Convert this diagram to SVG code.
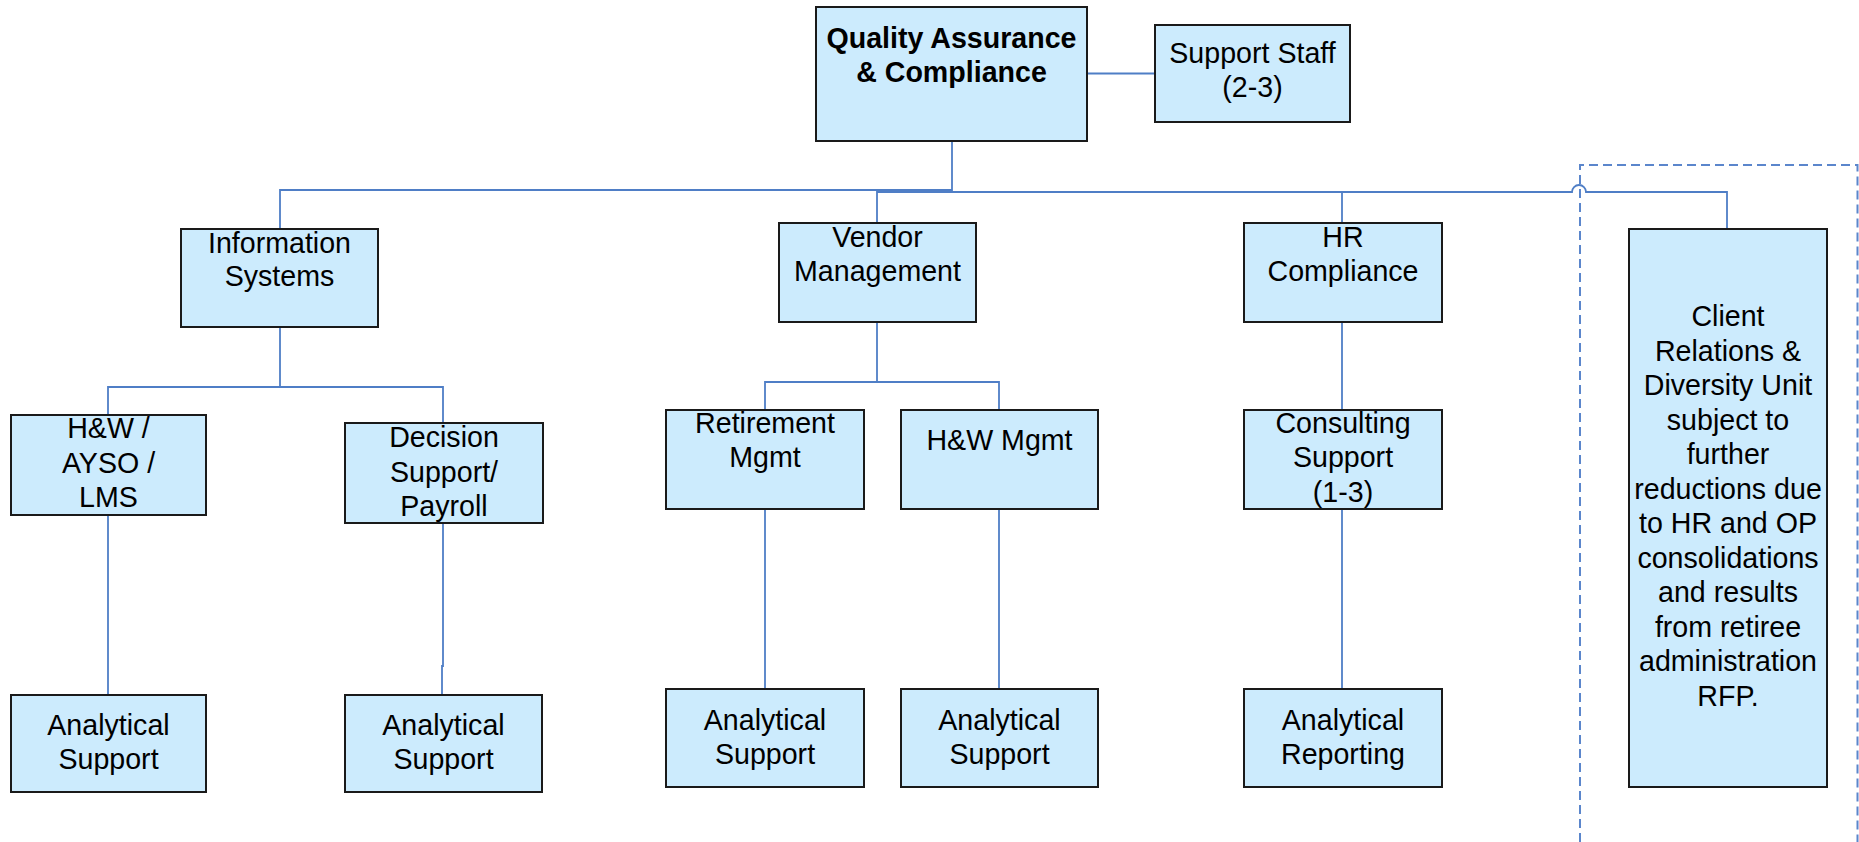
<svg xmlns="http://www.w3.org/2000/svg" width="1859" height="842" viewBox="0 0 1859 842">
<defs>
<style>
.box{fill:#CCEBFD;stroke:#1a1a1a;stroke-width:2}
.t{font-family:"Liberation Sans",Arial,sans-serif;font-size:28.6px;fill:#000;text-anchor:middle}
.b{font-weight:bold}
.c{fill:none;stroke:#4F7EC6;stroke-width:1.8}
.d{fill:none;stroke:#5B86CC;stroke-width:2;stroke-dasharray:9 5}
</style>
</defs>
<rect width="1859" height="842" fill="#fff"/>
<g id="connectors">
<path class="c" d="M1087 73.5H1155"/>
<path class="c" d="M952 141V191"/>
<path class="c" d="M280 229V190H952"/>
<path class="c" d="M877 223V192H1572a7 7 0 0 1 14 0H1727V229"/>
<path class="c" d="M1342 192V223"/>
<path class="c" d="M280 327V387"/>
<path class="c" d="M108 415V387H443V423"/>
<path class="c" d="M108 515V695"/>
<path class="c" d="M443 523V666H442V695"/>
<path class="c" d="M877 322V382"/>
<path class="c" d="M765 410V382H999V410"/>
<path class="c" d="M765 509V689"/>
<path class="c" d="M999 509V689"/>
<path class="c" d="M1342 322V410"/>
<path class="c" d="M1342 509V689"/>
</g>
<g id="boundary">
<path class="d" d="M1580 842V165H1857.5V842"/>
</g>
<g id="qa">
<rect class="box" x="816" y="7" width="271" height="134"/>
<text class="t b" x="951.5" y="48">Quality Assurance</text>
<text class="t b" x="951.5" y="82">&amp; Compliance</text>
</g>
<g id="support-staff">
<rect class="box" x="1155" y="25" width="195" height="97"/>
<text class="t" x="1252.5" y="63">Support Staff</text>
<text class="t" x="1252.5" y="97">(2-3)</text>
</g>
<g id="info-systems">
<rect class="box" x="181" y="229" width="197" height="98"/>
<text class="t" x="279.5" y="252.5">Information</text>
<text class="t" x="279.5" y="286">Systems</text>
</g>
<g id="vendor-mgmt">
<rect class="box" x="779" y="223" width="197" height="99"/>
<text class="t" x="877.5" y="247">Vendor</text>
<text class="t" x="877.5" y="281">Management</text>
</g>
<g id="hr-compliance">
<rect class="box" x="1244" y="223" width="198" height="99"/>
<text class="t" x="1343" y="247">HR</text>
<text class="t" x="1343" y="281">Compliance</text>
</g>
<g id="client-relations">
<rect class="box" x="1629" y="229" width="198" height="558"/>
<text class="t" x="1728" y="326">Client</text>
<text class="t" x="1728" y="360.5">Relations &amp;</text>
<text class="t" x="1728" y="395">Diversity Unit</text>
<text class="t" x="1728" y="429.5">subject to</text>
<text class="t" x="1728" y="464">further</text>
<text class="t" x="1728" y="498.5">reductions due</text>
<text class="t" x="1728" y="533">to HR and OP</text>
<text class="t" x="1728" y="567.5">consolidations</text>
<text class="t" x="1728" y="602">and results</text>
<text class="t" x="1728" y="636.5">from retiree</text>
<text class="t" x="1728" y="671">administration</text>
<text class="t" x="1728" y="705.5">RFP.</text>
</g>
<g id="hw-ayso-lms">
<rect class="box" x="11" y="415" width="195" height="100"/>
<text class="t" x="108.5" y="438">H&amp;W /</text>
<text class="t" x="108.5" y="472.5">AYSO /</text>
<text class="t" x="108.5" y="507">LMS</text>
</g>
<g id="decision-support">
<rect class="box" x="345" y="423" width="198" height="100"/>
<text class="t" x="444" y="447">Decision</text>
<text class="t" x="444" y="481.5">Support/</text>
<text class="t" x="444" y="516">Payroll</text>
</g>
<g id="retirement-mgmt">
<rect class="box" x="666" y="410" width="198" height="99"/>
<text class="t" x="765" y="433">Retirement</text>
<text class="t" x="765" y="467">Mgmt</text>
</g>
<g id="hw-mgmt">
<rect class="box" x="901" y="410" width="197" height="99"/>
<text class="t" x="999.5" y="450">H&amp;W Mgmt</text>
</g>
<g id="consulting-support">
<rect class="box" x="1244" y="410" width="198" height="99"/>
<text class="t" x="1343" y="433">Consulting</text>
<text class="t" x="1343" y="467">Support</text>
<text class="t" x="1343" y="502">(1-3)</text>
</g>
<g id="analytical-support-1">
<rect class="box" x="11" y="695" width="195" height="97"/>
<text class="t" x="108.5" y="735">Analytical</text>
<text class="t" x="108.5" y="769">Support</text>
</g>
<g id="analytical-support-2">
<rect class="box" x="345" y="695" width="197" height="97"/>
<text class="t" x="443.5" y="735">Analytical</text>
<text class="t" x="443.5" y="769">Support</text>
</g>
<g id="analytical-support-3">
<rect class="box" x="666" y="689" width="198" height="98"/>
<text class="t" x="765" y="730">Analytical</text>
<text class="t" x="765" y="764">Support</text>
</g>
<g id="analytical-support-4">
<rect class="box" x="901" y="689" width="197" height="98"/>
<text class="t" x="999.5" y="730">Analytical</text>
<text class="t" x="999.5" y="764">Support</text>
</g>
<g id="analytical-reporting">
<rect class="box" x="1244" y="689" width="198" height="98"/>
<text class="t" x="1343" y="730">Analytical</text>
<text class="t" x="1343" y="764">Reporting</text>
</g>
</svg>
